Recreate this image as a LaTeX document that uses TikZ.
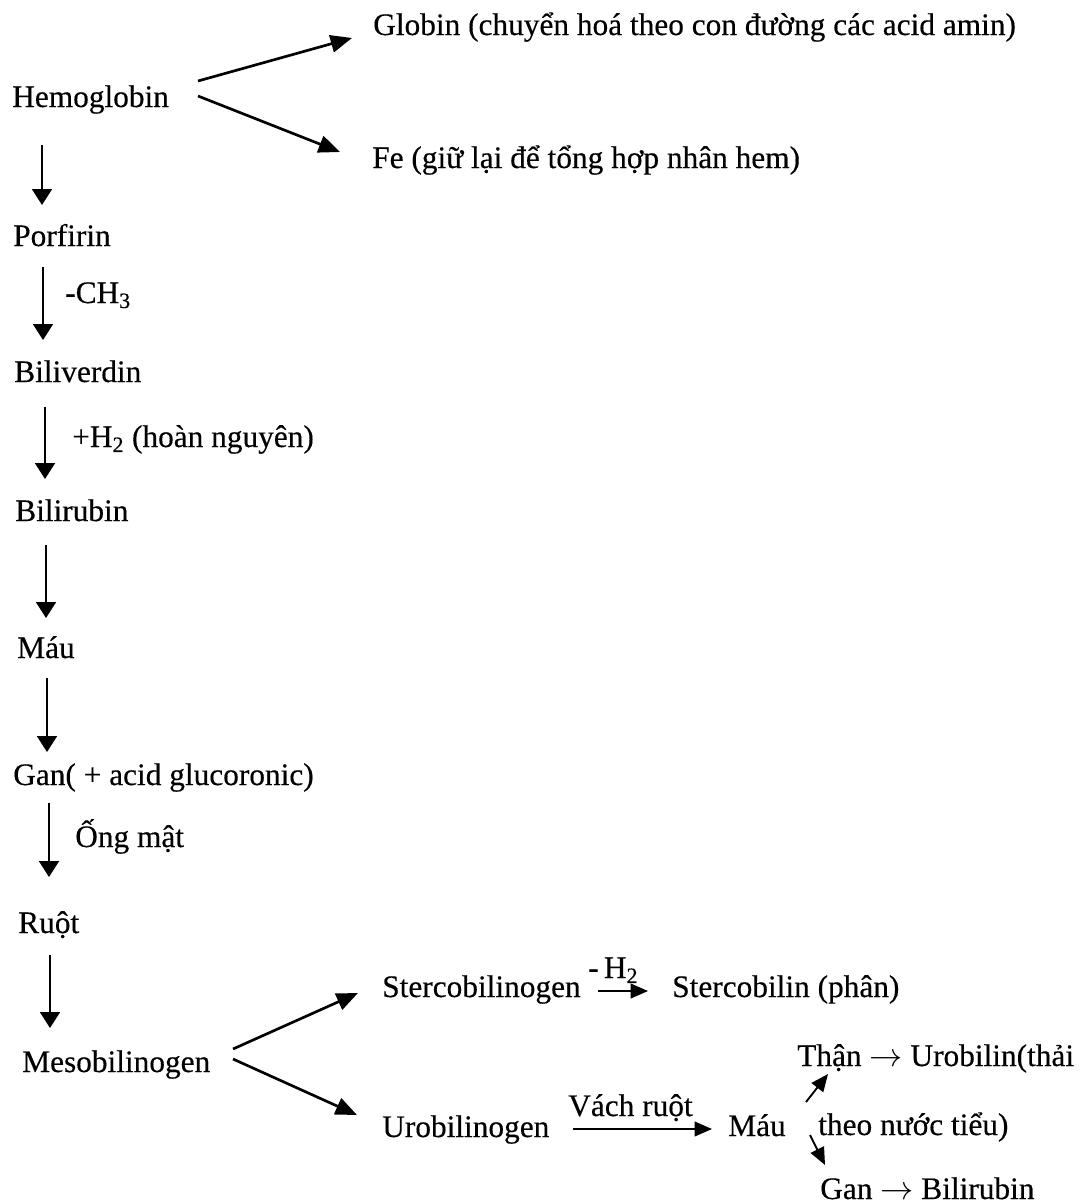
\documentclass[tikz,border=0pt]{standalone}
\usepackage{fontspec}
\setmainfont{Liberation Serif}[FakeBold=0.35]
\newfontfamily\heavyserif{Liberation Serif}[FakeBold=0.35]
\usetikzlibrary{arrows.meta}
\begin{document}
\begin{tikzpicture}[x=0.75pt,y=-0.75pt,
  lbl/.style={anchor=base west, inner sep=0pt, font=\heavyserif\fontsize{23.5}{28}\selectfont},
  varr/.style={line width=1.4pt, -{Triangle[width=15pt,length=12pt]}},
  darr/.style={line width=2pt, -{Triangle[width=13pt,length=16pt]}},
  sarr/.style={line width=1.4pt, -{Triangle[width=11pt,length=13pt]}}]
\useasboundingbox (0,0) rectangle (1087,1204);

% main column
\node[lbl] (hemo)  at (12,107)  {Hemoglobin};
\node[lbl] (glob)  at (373,35)  {Globin (chuyển hoá theo con đường các acid amin)};
\node[lbl] (fe)    at (372,168) {Fe (giữ lại để tổng hợp nhân hem)};
\node[lbl] (porf)  at (13,246)  {Porfirin};
\node[lbl] (ch3)   at (65,303)  {-CH\textsubscript{3}};
\node[lbl] (bili)  at (14,382)  {Biliverdin};
\node[lbl] (h2)    at (72,447)  {+H\textsubscript{2} (hoàn nguyên)};
\node[lbl] (bilir) at (15,521)  {Bilirubin};
\node[lbl] (mau)   at (17,658)  {Máu};
\node[lbl] (gan)   at (13,785)  {Gan( + acid glucoronic)};
\node[lbl] (ong)   at (75,847)  {Ống mật};
\node[lbl] (ruot)  at (18,933)  {Ruột};
\node[lbl] (meso)  at (22,1072) {Mesobilinogen};

% lower branch
\node[lbl] (sterco)  at (382,997)  {Stercobilinogen};
\node[lbl] (mh2)     at (588,978)  {-\,H\textsubscript{2}};
\node[lbl] (stercob) at (672,997)  {Stercobilin (phân)};
\node[lbl] (uro)     at (382,1137) {Urobilinogen};
\node[lbl] (vach)    at (568,1116) {Vách ruột};
\node[lbl] (mau2)    at (728,1136) {Máu};
\node[lbl] (than)    at (797,1066) {Thận $\rightarrow$ Urobilin(thải};
\node[lbl] (theo)    at (818,1135) {theo nước tiểu)};
\node[lbl] (gan2)    at (820,1199) {Gan $\rightarrow$ Bilirubin};

% vertical arrows
\draw[varr] ([shift={(30,38)}]hemo.base west)  -- ([shift={(29,-41)}]porf.base west);
\draw[varr] ([shift={(30,21)}]porf.base west)  -- ([shift={(29,-42)}]bili.base west);
\draw[varr] ([shift={(31,25)}]bili.base west)  -- ([shift={(30,-42)}]bilir.base west);
\draw[varr] ([shift={(31,24)}]bilir.base west) -- ([shift={(29,-40)}]mau.base west);
\draw[varr] ([shift={(30,20)}]mau.base west)   -- ([shift={(34,-33)}]gan.base west);
\draw[varr] ([shift={(36,18)}]gan.base west)   -- ([shift={(31,-56)}]ruot.base west);
\draw[varr] ([shift={(32,22)}]ruot.base west)  -- ([shift={(28,-44)}]meso.base west);

% diagonal arrows
\draw[darr] ([shift={(186,-26)}]hemo.base west) -- ([shift={(-21,3)}]glob.base west);
\draw[darr] ([shift={(186,-11)}]hemo.base west) -- ([shift={(-32,-16)}]fe.base west);
\draw[darr] ([shift={(211,-23)}]meso.base west) -- ([shift={(-24,-4)}]sterco.base west);
\draw[darr] ([shift={(211,-13)}]meso.base west) -- ([shift={(-25,-22)}]uro.base west);

% horizontal arrows
\draw[sarr] ([shift={(216,-6)}]sterco.base west) -- ([shift={(-24,-6)}]stercob.base west);
\draw[sarr] ([shift={(191,-8)}]uro.base west) -- ([shift={(-16,-7)}]mau2.base west);

% small arrows from Máu
\draw[sarr] ([shift={(78,-34)}]mau2.base west) -- ([shift={(31,8)}]than.base west);
\draw[sarr] ([shift={(82,-1)}]mau2.base west) -- ([shift={(5,-34)}]gan2.base west);
\end{tikzpicture}
\end{document}
